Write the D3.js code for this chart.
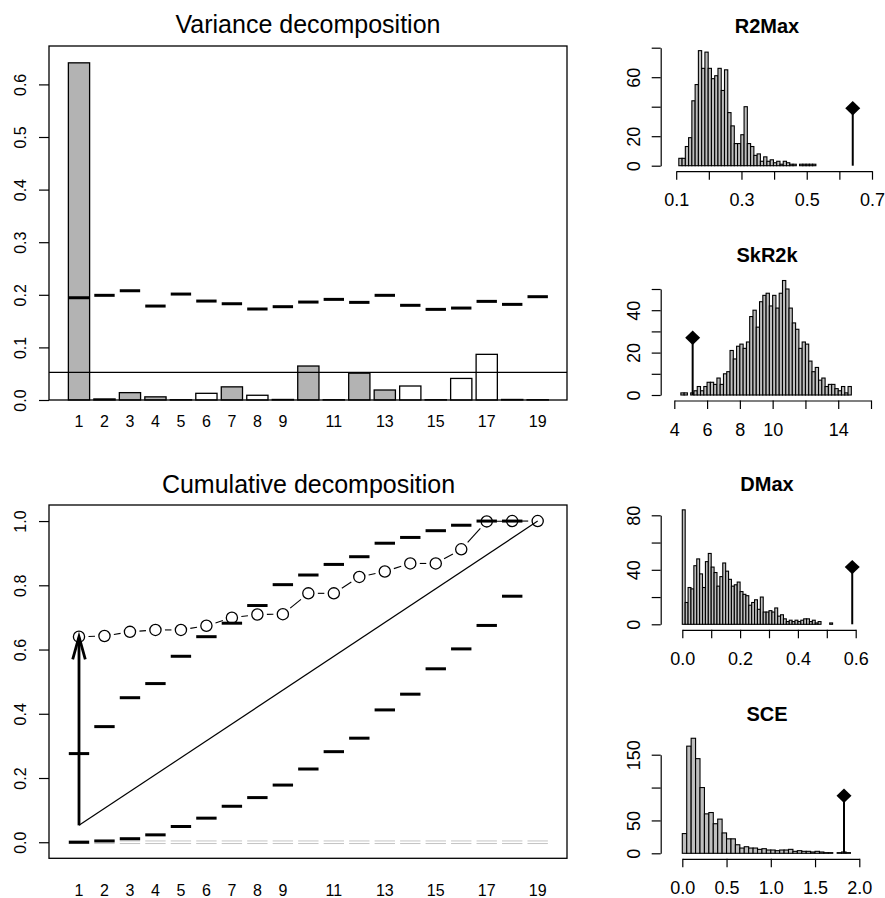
<!DOCTYPE html>
<html>
<head>
<meta charset="utf-8">
<script src="https://cdnjs.cloudflare.com/ajax/libs/d3/7.8.5/d3.min.js"></script>
<style>
body { margin: 0; background: #fff; }
svg text { font-family: "Liberation Sans", Arial, Helvetica, sans-serif; fill: #000; }
</style>
</head>
<body>
<svg id="chart" width="885" height="898"></svg>
<script>
// ---- data ----
var components = [1, 2, 3, 4, 5, 6, 7, 8, 9, 10, 11, 12, 13, 14, 15, 16, 17, 18, 19];
var compLabels = [1, 2, 3, 4, 5, 6, 7, 8, 9, 11, 13, 15, 17, 19];

var variance = [0.641, 0.002, 0.014, 0.006, 0.0005, 0.0127, 0.025, 0.009, 0.001, 0.0646,
                0.0005, 0.051, 0.019, 0.0266, 0.0005, 0.041, 0.0868, 0.001, 0.0005];
var varianceSign = ["+", "+", "+", "+", "-", "-", "+", "-", "-", "+",
                    "-", "+", "+", "-", "-", "-", "-", "+", "-"];
var varianceUpper = [0.1944, 0.199, 0.2077, 0.1786, 0.2014, 0.1881, 0.183, 0.173, 0.1774, 0.1862,
                     0.1913, 0.1856, 0.199, 0.180, 0.1723, 0.1748, 0.1875, 0.1818, 0.1964];
var meanLevel = 0.0526;
var varTicks = [0, 0.1, 0.2, 0.3, 0.4, 0.5, 0.6];

var cumulative = [0.640, 0.642, 0.655, 0.661, 0.661, 0.674, 0.699, 0.709, 0.710, 0.775,
                  0.775, 0.826, 0.843, 0.868, 0.868, 0.912, 0.999, 1.0, 1.0];
var cumUpper = [0.276, 0.360, 0.450, 0.494, 0.579, 0.640, 0.682, 0.737, 0.802, 0.832,
                0.865, 0.889, 0.931, 0.949, 0.970, 0.987, 1.0, 1.0];
var cumLower = [0.0, 0.004, 0.011, 0.023, 0.049, 0.075, 0.112, 0.139, 0.178, 0.228,
                0.282, 0.324, 0.412, 0.461, 0.540, 0.602, 0.675, 0.766];
var diagonal = [[1, 0.0526], [19, 1.0]];
var cumTicks = [0, 0.2, 0.4, 0.6, 0.8, 1.0];

// histograms of simulated statistics
var r2maxCounts = [5, 5, 13, 19, 44, 55, 78, 66, 77, 66, 59, 61, 66, 51, 65, 36, 27, 15, 15, 21,
                   40, 15, 13, 7, 8, 3, 6, 3, 4, 2, 3, 1, 3, 2, 1, 1, 0, 1, 1, 1, 1, 1];
var r2maxBreaks = [0.108, 0.01];      // first break, bin width
var r2maxObs = 0.641;

var skr2kCounts = [1, 1, 0, 1, 2, 4, 2, 4, 6, 6, 5, 8, 5, 10, 11, 21, 17, 23, 24, 22,
                   25, 37, 40, 32, 44, 47, 48, 42, 47, 41, 48, 54, 50, 41, 34, 31, 22, 25, 24, 16,
                   11, 13, 7, 8, 4, 5, 5, 3, 2, 4, 1, 4];
var skr2kBreaks = [4.4, 0.2];
var skr2kObs = 5.12;

var dmaxCounts = [84, 16, 27, 26, 43, 48, 37, 27, 46, 52, 42, 38, 28, 35, 45, 39, 33, 28, 29, 31,
                  24, 22, 21, 14, 16, 18, 11, 20, 9, 9, 10, 9, 12, 6, 7, 4, 2, 3, 2, 3,
                  2, 3, 4, 4, 2, 3, 1, 2, 0, 0, 0, 1];
var dmaxBreaks = [0.0, 0.01];
var dmaxObs = 0.588;

var sceCounts = [30, 163, 175, 144, 100, 60, 62, 45, 52, 31, 22, 22, 13, 8, 10, 8, 8, 6, 7, 5,
                 5, 4, 5, 5, 6, 3, 4, 3, 3, 2, 3, 2, 1, 1, 0, 1, 2, 1];
var sceBreaks = [0.0, 0.05];
var sceObs = 1.827;

// ---- drawing ----
var svg = d3.select("#chart");
svg.append("rect").attr("width", 885).attr("height", 898).attr("fill", "#fff");

var fmt1 = d3.format(".1f");

function rotateLabels(g, dist) {
  g.selectAll(".tick text")
    .attr("transform", "rotate(-90)")
    .attr("x", 0).attr("y", -dist).attr("dy", null)
    .attr("text-anchor", "middle");
}

// shared x scale of the two left panels (component index)
var xComp = d3.scaleLinear().domain([-0.177, 20.15]).range([49, 567]);
var half = 0.4167;

// ===== Variance decomposition =====
var yVar = d3.scaleLinear().domain([0, 0.673]).range([400, 46]);
var gv = svg.append("g");

gv.selectAll("rect.bar").data(components).enter().append("rect")
  .attr("class", "bar")
  .attr("x", function(d) { return xComp(d - half); })
  .attr("width", function(d) { return xComp(d + half) - xComp(d - half); })
  .attr("y", function(d, i) { return yVar(variance[i]); })
  .attr("height", function(d, i) { return yVar(0) - yVar(variance[i]); })
  .attr("fill", function(d, i) { return varianceSign[i] == "+" ? "#b3b3b3" : "#fff"; })
  .attr("stroke", "#000").attr("stroke-width", 1.3);

gv.selectAll("line.q").data(components).enter().append("line")
  .attr("x1", function(d) { return xComp(d - 0.4); })
  .attr("x2", function(d) { return xComp(d + 0.4); })
  .attr("y1", function(d, i) { return yVar(varianceUpper[i]); })
  .attr("y2", function(d, i) { return yVar(varianceUpper[i]); })
  .attr("stroke", "#000").attr("stroke-width", 3);

gv.append("line")
  .attr("x1", 49).attr("x2", 567)
  .attr("y1", yVar(meanLevel)).attr("y2", yVar(meanLevel))
  .attr("stroke", "#000").attr("stroke-width", 1.1);

gv.append("rect").attr("x", 49).attr("y", 46).attr("width", 518).attr("height", 354)
  .attr("fill", "none").attr("stroke", "#000").attr("stroke-width", 1.3);

var ayv = gv.append("g").attr("transform", "translate(49,0)")
  .call(d3.axisLeft(yVar).tickValues(varTicks).tickFormat(fmt1).tickSize(10).tickSizeOuter(0));
ayv.select(".domain").remove();
ayv.selectAll(".tick line").attr("stroke-width", 1.2);
ayv.attr("font-size", 16).attr("font-family", null);
rotateLabels(ayv, 23);

gv.selectAll("text.xl").data(compLabels).enter().append("text")
  .attr("x", function(d) { return xComp(d); }).attr("y", 427)
  .attr("text-anchor", "middle").attr("font-size", 16)
  .text(function(d) { return d; });

gv.append("text").attr("x", 308).attr("y", 33).attr("text-anchor", "middle")
  .attr("font-size", 25).text("Variance decomposition");

// ===== Cumulative decomposition =====
var yCum = d3.scaleLinear().domain([-0.05, 1.05]).range([858.3, 505]);
var gc = svg.append("g");

// light double lines at zero
[-1.3, 1.3].forEach(function(off) {
  gc.selectAll(null).data(components).enter().append("line")
    .attr("x1", function(d) { return xComp(d - 0.4); })
    .attr("x2", function(d) { return xComp(d + 0.4); })
    .attr("y1", yCum(0) + off).attr("y2", yCum(0) + off)
    .attr("stroke", "#c4c4c4").attr("stroke-width", 1);
});

gc.append("line")
  .attr("x1", xComp(diagonal[0][0])).attr("y1", yCum(diagonal[0][1]))
  .attr("x2", xComp(diagonal[1][0])).attr("y2", yCum(diagonal[1][1]))
  .attr("stroke", "#000").attr("stroke-width", 1.2);

function dashes(vals) {
  gc.selectAll(null).data(vals).enter().append("line")
    .attr("x1", function(d, i) { return xComp(components[i] - 0.4); })
    .attr("x2", function(d, i) { return xComp(components[i] + 0.4); })
    .attr("y1", function(d) { return yCum(d); })
    .attr("y2", function(d) { return yCum(d); })
    .attr("stroke", "#000").attr("stroke-width", 3);
}
dashes(cumLower);
dashes(cumUpper);

// type "b" line: segments with gaps around the points
var pts = components.map(function(c, i) { return [xComp(c), yCum(cumulative[i])]; });
var gap = 9.5;
var segs = d3.pairs(pts).map(function(p) {
  var a = p[0], b = p[1], dx = b[0] - a[0], dy = b[1] - a[1], L = Math.hypot(dx, dy);
  if (L <= 2 * gap) return null;
  return [a[0] + dx * gap / L, a[1] + dy * gap / L, b[0] - dx * gap / L, b[1] - dy * gap / L];
}).filter(Boolean);
gc.selectAll("line.seg").data(segs).enter().append("line")
  .attr("x1", function(s) { return s[0]; }).attr("y1", function(s) { return s[1]; })
  .attr("x2", function(s) { return s[2]; }).attr("y2", function(s) { return s[3]; })
  .attr("stroke", "#000").attr("stroke-width", 1.1);

gc.selectAll("circle").data(pts).enter().append("circle")
  .attr("cx", function(p) { return p[0]; }).attr("cy", function(p) { return p[1]; })
  .attr("r", 5.6).attr("fill", "none").attr("stroke", "#000").attr("stroke-width", 1.3);

// arrow from the mean level up to the first cumulative value
var ax = xComp(components[0]), ay0 = yCum(meanLevel), ay1 = yCum(cumulative[0]);
gc.append("line").attr("x1", ax).attr("x2", ax).attr("y1", ay0).attr("y2", ay1 + 1)
  .attr("stroke", "#000").attr("stroke-width", 2.8);
gc.append("path")
  .attr("d", "M" + (ax - 6.3) + "," + (ay1 + 22.7) + "L" + ax + "," + ay1 + "L" + (ax + 6.3) + "," + (ay1 + 22.7))
  .attr("fill", "none").attr("stroke", "#000").attr("stroke-width", 2.8)
  .attr("stroke-linejoin", "miter");

gc.append("rect").attr("x", 49).attr("y", 505).attr("width", 518).attr("height", 353.3)
  .attr("fill", "none").attr("stroke", "#000").attr("stroke-width", 1.3);

var ayc = gc.append("g").attr("transform", "translate(49,0)")
  .call(d3.axisLeft(yCum).tickValues(cumTicks).tickFormat(fmt1).tickSize(10).tickSizeOuter(0));
ayc.select(".domain").remove();
ayc.selectAll(".tick line").attr("stroke-width", 1.2);
ayc.attr("font-size", 16).attr("font-family", null);
rotateLabels(ayc, 23);

gc.selectAll("text.xl").data(compLabels).enter().append("text")
  .attr("x", function(d) { return xComp(d); }).attr("y", 896)
  .attr("text-anchor", "middle").attr("font-size", 16)
  .text(function(d) { return d; });

gc.append("text").attr("x", 308.5).attr("y", 493).attr("text-anchor", "middle")
  .attr("font-size", 25).text("Cumulative decomposition");

// ===== histograms =====
function drawHist(o) {
  var g = svg.append("g");
  var x = d3.scaleLinear().domain(o.xDom).range(o.xPx);
  var y = d3.scaleLinear().domain(o.yDom).range(o.yPx);
  var start = o.breaks[0], w = o.breaks[1];

  g.selectAll("rect").data(o.counts).enter().append("rect")
    .attr("x", function(d, i) { return x(start + i * w); })
    .attr("width", function(d, i) { return x(start + (i + 1) * w) - x(start + i * w); })
    .attr("y", function(d) { return y(d); })
    .attr("height", function(d) { return y(0) - y(d); })
    .attr("fill", "#bebebe").attr("stroke", "#000").attr("stroke-width", 1.1);

  // observed value
  var oy = y(d3.max(o.counts) / 2), ox = x(o.obs);
  g.append("line").attr("x1", ox).attr("x2", ox).attr("y1", y(0)).attr("y2", oy)
    .attr("stroke", "#000").attr("stroke-width", 2);
  g.append("path")
    .attr("d", "M" + (ox - 7.5) + "," + oy + "L" + ox + "," + (oy - 7.2) + "L" + (ox + 7.5) + "," + oy + "L" + ox + "," + (oy + 7.2) + "Z")
    .attr("fill", "#000");

  var axX = g.append("g").attr("transform", "translate(0," + (y(0) + 5.5) + ")")
    .call(d3.axisBottom(x).tickValues(o.xTicks).tickSize(8.5).tickSizeOuter(0)
      .tickFormat(function(d) { return o.xLabels.indexOf(d) >= 0 ? o.fmt(d) : ""; }));
  axX.attr("font-size", 18).attr("font-family", null);
  axX.selectAll("line, path").attr("stroke-width", 1.2);
  axX.selectAll(".tick text").attr("y", 35).attr("dy", null);

  var axY = g.append("g").attr("transform", "translate(660.7,0)")
    .call(d3.axisLeft(y).tickValues(o.yTicks).tickSize(9).tickSizeOuter(0)
      .tickFormat(function(d) { return o.yLabels.indexOf(d) >= 0 ? d : ""; }));
  axY.attr("font-size", 18).attr("font-family", null);
  axY.selectAll("line, path").attr("stroke-width", 1.2);
  rotateLabels(axY, 20.7);

  g.append("text").attr("x", 767).attr("y", o.titleY).attr("text-anchor", "middle")
    .attr("font-size", 20).attr("font-weight", "bold").text(o.title);
}

drawHist({ title: "R2Max", counts: r2maxCounts, breaks: r2maxBreaks, obs: r2maxObs,
  xDom: [0.1, 0.7], xPx: [676.2, 872], yDom: [0, 80], yPx: [165.7, 47.7],
  xTicks: [0.1, 0.2, 0.3, 0.4, 0.5, 0.6, 0.7], xLabels: [0.1, 0.3, 0.5, 0.7], fmt: fmt1,
  yTicks: [0, 20, 40, 60, 80], yLabels: [0, 20, 60], titleY: 33 });

drawHist({ title: "SkR2k", counts: skr2kCounts, breaks: skr2kBreaks, obs: skr2kObs,
  xDom: [4, 16], xPx: [674.3, 871], yDom: [0, 50], yPx: [395, 289],
  xTicks: [4, 6, 8, 10, 12, 14, 16], xLabels: [4, 6, 8, 10, 14], fmt: d3.format("d"),
  yTicks: [0, 10, 20, 30, 40, 50], yLabels: [0, 20, 40], titleY: 262 });

drawHist({ title: "DMax", counts: dmaxCounts, breaks: dmaxBreaks, obs: dmaxObs,
  xDom: [0, 0.6], xPx: [682.3, 855.7], yDom: [0, 80], yPx: [624.3, 515.3],
  xTicks: [0, 0.1, 0.2, 0.3, 0.4, 0.5, 0.6], xLabels: [0, 0.2, 0.4, 0.6], fmt: fmt1,
  yTicks: [0, 20, 40, 60, 80], yLabels: [0, 40, 80], titleY: 491 });

drawHist({ title: "SCE", counts: sceCounts, breaks: sceBreaks, obs: sceObs,
  xDom: [0, 2], xPx: [682.3, 859.3], yDom: [0, 150], yPx: [853.3, 754.7],
  xTicks: [0, 0.5, 1, 1.5, 2], xLabels: [0, 0.5, 1, 1.5, 2], fmt: fmt1,
  yTicks: [0, 50, 100, 150], yLabels: [0, 50, 150], titleY: 721 });
</script>
</body>
</html>
